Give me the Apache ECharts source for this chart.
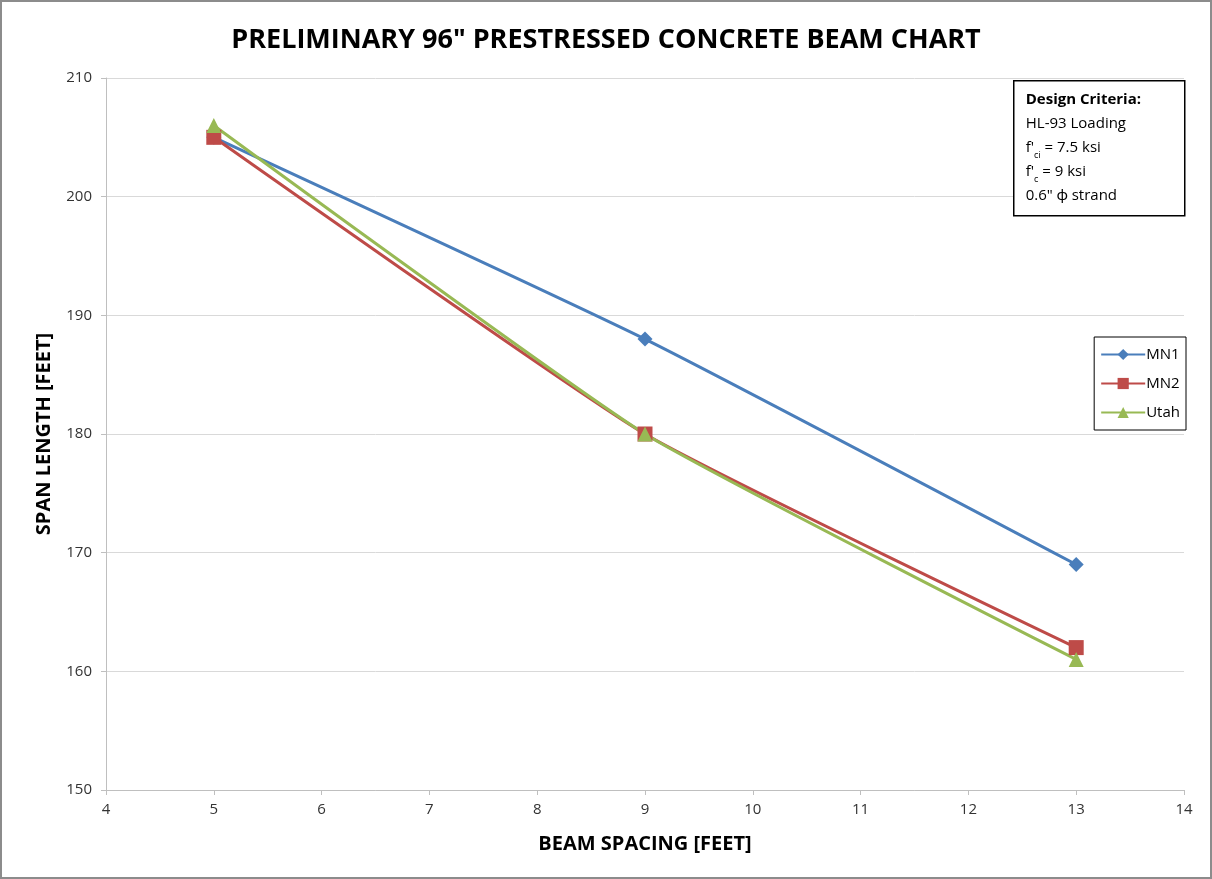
<!DOCTYPE html>
<html>
<head>
<meta charset="utf-8">
<script src="https://cdn.jsdelivr.net/npm/echarts@6/dist/echarts.min.js"></script>
<style>
  html, body { margin: 0; padding: 0; background: #fff; }
  #chart { width: 1212px; height: 879px; box-sizing: border-box; border: 2px solid #8c8c8c; }
</style>
</head>
<body>
<div id="chart"></div>
<script>
// beam spacing (ft) and span length (ft)
const spacing = [5, 9, 13];
const mn1 = [205, 188, 169];
const mn2 = [205, 180, 162];
const utah = [206, 180, 161];

const pairs = (ys) => spacing.map((x, i) => [x, ys[i]]);

const myChart = echarts.init(document.getElementById('chart'));
const font = 'Open Sans, Lato, sans-serif';

const option = {
  animation: false,
  textStyle: { fontFamily: font },
  title: {
    text: 'PRELIMINARY 96" PRESTRESSED CONCRETE BEAM CHART',
    left: 'center',
    top: 20,
    textStyle: { fontFamily: font, fontSize: 27, fontWeight: 'bold', color: '#000' }
  },
  grid: { left: 104, right: 26, top: 76, bottom: 87 },
  xAxis: {
    type: 'value',
    min: 4, max: 14, interval: 1,
    name: 'BEAM SPACING [FEET]',
    nameLocation: 'middle',
    nameGap: 44,
    nameTextStyle: { fontFamily: font, fontSize: 20, fontWeight: 'bold', color: '#000' },
    axisLine: { show: true, lineStyle: { color: '#bfbfbf' } },
    axisTick: { show: true, length: 5, lineStyle: { color: '#bfbfbf' } },
    axisLabel: { fontSize: 15, color: '#333', margin: 12 },
    splitLine: { show: false }
  },
  yAxis: {
    type: 'value',
    min: 150, max: 210, interval: 10,
    name: 'SPAN LENGTH [FEET]',
    nameLocation: 'middle',
    nameGap: 52,
    nameTextStyle: { fontFamily: font, fontSize: 20, fontWeight: 'bold', color: '#000' },
    axisLine: { show: true, lineStyle: { color: '#bfbfbf' } },
    axisTick: { show: true, length: 5, lineStyle: { color: '#bfbfbf' } },
    axisLabel: { fontSize: 15, color: '#333', margin: 14 },
    splitLine: { show: true, lineStyle: { color: '#d9d9d9' } }
  },
  legend: {
    orient: 'vertical',
    right: 24,
    top: 335,
    itemGap: 14,
    itemWidth: 44,
    itemHeight: 14,
    padding: [10, 6, 10, 6],
    borderColor: '#000',
    borderWidth: 1,
    backgroundColor: '#fff',
    textStyle: { fontSize: 15, color: '#000', padding: [0, 0, 0, -4] },
    data: ['MN1', 'MN2', 'Utah']
  },
  graphic: [{
    type: 'group',
    left: 1011,
    top: 78,
    z: 100,
    children: [
      { type: 'rect', z: 100, shape: { x: 0, y: 0, width: 171, height: 135 },
        style: { fill: '#fff', stroke: '#000', lineWidth: 1.5 } },
      { type: 'text', z: 101, left: 12, top: 7,
        style: {
          text: '{b|Design Criteria:}\nHL-93 Loading\nf\'{s|ci} = 7.5 ksi\nf\'{s|c} = 9 ksi\n0.6" ϕ strand',
          font: '15px ' + font,
          fill: '#000',
          lineHeight: 24,
          rich: {
            b: { fontWeight: 'bold', fontSize: 15, fontFamily: font },
            s: { fontSize: 9, fontFamily: font, verticalAlign: 'bottom', padding: [9, 0, 0, 0] }
          }
        }
      }
    ]
  }],
  series: [
    {
      name: 'MN1', type: 'line', data: pairs(mn1), smooth: 0.15,
      symbol: 'diamond', symbolSize: 15,
      itemStyle: { color: '#4a7ebb' }, lineStyle: { width: 3, color: '#4a7ebb' }
    },
    {
      name: 'MN2', type: 'line', data: pairs(mn2), smooth: 0.15,
      symbol: 'rect', symbolSize: 15,
      itemStyle: { color: '#be4b48' }, lineStyle: { width: 3, color: '#be4b48' }
    },
    {
      name: 'Utah', type: 'line', data: pairs(utah), smooth: 0.15,
      symbol: 'triangle', symbolSize: 15,
      itemStyle: { color: '#98b954' }, lineStyle: { width: 3, color: '#98b954' }
    }
  ]
};

myChart.setOption(option);
</script>
</body>
</html>
